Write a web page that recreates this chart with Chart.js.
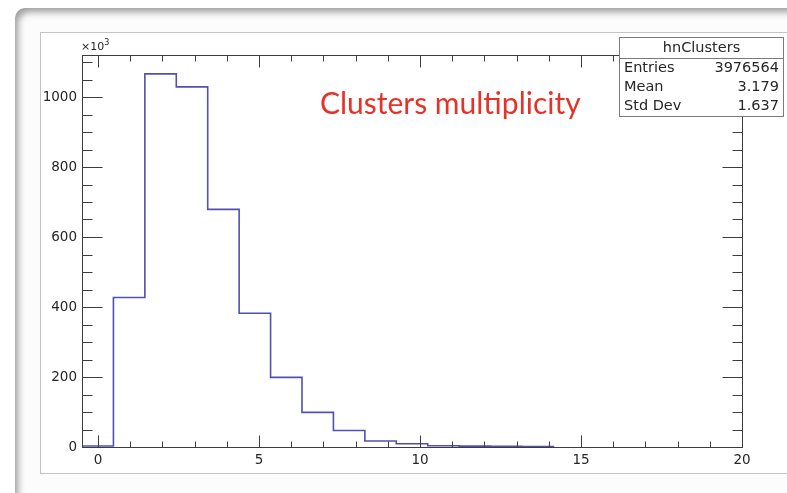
<!DOCTYPE html>
<html>
<head>
<meta charset="utf-8">
<script src="https://cdn.jsdelivr.net/npm/chart.js@4/dist/chart.umd.min.js"></script>
<style>
  html, body { margin: 0; padding: 0; background: #ffffff; overflow: hidden; }
  #stage { position: relative; width: 787px; height: 493px; overflow: hidden; }
  #frame {
    position: absolute; left: 15px; top: 8px; width: 820px; height: 540px;
    border-radius: 10px; background: #fcfcfc;
    box-shadow: inset 5px 6px 7px -2px rgba(0,0,0,0.38);
  }
  #pad {
    position: absolute; left: 40px; top: 32px; width: 770px; height: 440px;
    background: #ffffff; border: 1px solid #c4c4c4;
  }
  #c { position: absolute; left: 0; top: 0; }
</style>
</head>
<body>
<div id="stage">
  <div id="frame"></div>
  <div id="pad"></div>
  <canvas id="c" width="787" height="493"></canvas>
</div>
<script>
// Histogram binning: 21 equal bins between histMin and histMax
const histMin = -0.5;
const histMax = 20;
// Counts per bin, in units of 10^3
const binCounts = [3, 427, 1066, 1029, 679, 382, 199, 99, 47, 17, 9.4, 3.5, 2.5, 2, 1.5, 0, 0, 0, 0, 0, 0];

// Axis labels and ranges
const xTickValues = [0, 5, 10, 15, 20];
const yTickValues = [0, 200, 400, 600, 800, 1000];
const yMax = 1120;
const xMinorStep = 1;
const yMinorStep = 50;

// Text shown on the pad
const plotTitle = 'Clusters multiplicity';
const statsTitle = 'hnClusters';
const statsLabels = ['Entries', 'Mean', 'Std Dev'];
const statsValues = ['3976564', '3.179', '1.637'];

// Outline of the histogram: left edge of every filled bin, then a drop to zero
const binWidth = (histMax - histMin) / binCounts.length;
let lastFilled = binCounts.length - 1;
while (lastFilled > 0 && binCounts[lastFilled] === 0) lastFilled--;
const histPoints = binCounts.slice(0, lastFilled + 1).map((v, i) => ({ x: histMin + i * binWidth, y: v }));
histPoints.push({ x: histMin + (lastFilled + 1) * binWidth, y: 0 });

const tickFont = { family: 'DejaVu Sans', size: 13.5 };
const textColor = '#262626';

// Frame with inward ticks on all four sides, plus pad annotations
const padDecor = {
  id: 'padDecor',
  afterDatasetsDraw(chart) {
    const { ctx, chartArea: a, scales: { x, y } } = chart;
    ctx.save();
    ctx.strokeStyle = '#3c3c3c';
    ctx.lineWidth = 1;
    const L = Math.round(a.left) + 0.5, R = Math.round(a.right) + 0.5;
    const T = Math.round(a.top) + 0.5, B = Math.round(a.bottom) + 0.5;
    ctx.strokeRect(L, T, R - L, B - T);

    ctx.beginPath();
    for (let v = 0; v <= x.max + 1e-9; v += xMinorStep) {
      const px = Math.round(x.getPixelForValue(v)) + 0.5;
      const len = (v % 5 === 0) ? 12 : 6;
      ctx.moveTo(px, B); ctx.lineTo(px, B - len);
      ctx.moveTo(px, T); ctx.lineTo(px, T + len);
    }
    for (let v = 0; v <= y.max + 1e-9; v += yMinorStep) {
      const py = Math.round(y.getPixelForValue(v)) + 0.5;
      const len = (v % 200 === 0) ? 20 : 10;
      ctx.moveTo(L, py); ctx.lineTo(L + len, py);
      ctx.moveTo(R, py); ctx.lineTo(R - len, py);
    }
    ctx.stroke();

    // axis multiplier
    ctx.fillStyle = textColor;
    ctx.textBaseline = 'alphabetic';
    ctx.textAlign = 'left';
    ctx.font = '11px "DejaVu Sans"';
    ctx.fillText('\u00d710', 81, 50);
    const w = ctx.measureText('\u00d710').width;
    ctx.font = '8px "DejaVu Sans"';
    ctx.fillText('3', 81 + w, 45);

    // title
    ctx.fillStyle = '#e63228';
    ctx.font = '30px Lato';
    ctx.fillText(plotTitle, 320, 114);

    // statistics box
    const bx = 619.5, by = 37.5, bw = 164, bh = 79;
    ctx.fillStyle = '#ffffff';
    ctx.fillRect(bx, by, bw, bh);
    ctx.strokeStyle = '#7a7a7a';
    ctx.strokeRect(bx, by, bw, bh);
    ctx.beginPath();
    ctx.moveTo(bx, 58.5); ctx.lineTo(bx + bw, 58.5);
    ctx.stroke();
    ctx.fillStyle = textColor;
    ctx.font = '14.5px "DejaVu Sans"';
    ctx.textBaseline = 'middle';
    ctx.textAlign = 'center';
    ctx.fillText(statsTitle, bx + bw / 2, 48);
    const rowY = [68, 87, 106];
    statsLabels.forEach((lab, i) => {
      ctx.textAlign = 'left';
      ctx.fillText(lab, 624, rowY[i]);
      ctx.textAlign = 'right';
      ctx.fillText(statsValues[i], 779, rowY[i]);
    });
    ctx.restore();
  }
};

new Chart(document.getElementById('c'), {
  type: 'line',
  data: {
    datasets: [{
      data: histPoints,
      stepped: 'before',
      borderColor: '#5050b4',
      borderWidth: 1.6,
      pointRadius: 0,
      fill: false,
      tension: 0
    }]
  },
  options: {
    responsive: false,
    animation: false,
    events: [],
    layout: { padding: { left: 40, right: 45, top: 55, bottom: 20 } },
    plugins: { legend: { display: false }, tooltip: { enabled: false }, title: { display: false } },
    scales: {
      x: {
        type: 'linear',
        min: histMin,
        max: histMax,
        afterBuildTicks: s => { s.ticks = xTickValues.map(v => ({ value: v })); },
        afterFit: s => { s.height = 26; },
        ticks: { font: tickFont, color: textColor, padding: 5, maxRotation: 0, autoSkip: false,
                 callback: v => String(v) },
        grid: { display: false, drawTicks: false },
        border: { display: false }
      },
      y: {
        type: 'linear',
        min: 0,
        max: yMax,
        afterBuildTicks: s => { s.ticks = yTickValues.map(v => ({ value: v })); },
        afterFit: s => { s.width = 42; },
        ticks: { font: tickFont, color: textColor, padding: 5, callback: v => String(v) },
        grid: { display: false, drawTicks: false },
        border: { display: false }
      }
    }
  },
  plugins: [padDecor]
});
</script>
</body>
</html>
